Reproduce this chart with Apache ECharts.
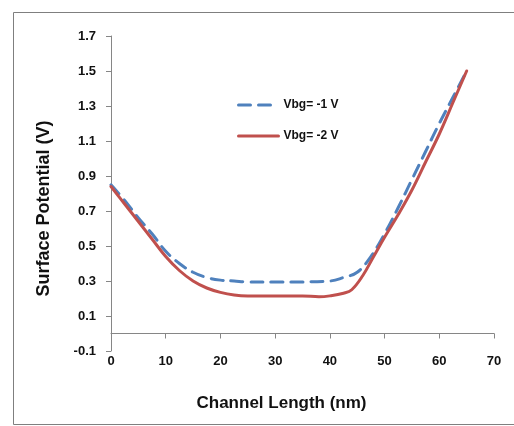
<!DOCTYPE html>
<html>
<head>
<meta charset="utf-8">
<script src="https://cdn.jsdelivr.net/npm/echarts@6/dist/echarts.min.js"></script>
<style>html,body{margin:0;padding:0;background:#fff;}#chart{width:514px;height:426px;}</style>
</head>
<body>
<div id="chart"></div>
<script>
var seriesNames = ['Vbg= -1 V', 'Vbg= -2 V'];
var xVbg1 = [0, 2.5, 5, 7.5, 10, 12.5, 15, 17.5, 20, 22.5, 25, 30, 35, 40, 42.5, 45, 47.5, 50, 52.5, 55, 57.5, 60, 62.5, 65];
var yVbg1 = [0.85, 0.76, 0.66, 0.57, 0.47, 0.40, 0.35, 0.32, 0.305, 0.30, 0.295, 0.295, 0.295, 0.30, 0.32, 0.35, 0.44, 0.57, 0.72, 0.88, 1.04, 1.20, 1.35, 1.50];
var xVbg2 = [0, 2.5, 5, 7.5, 10, 12.5, 15, 17.5, 20, 22.5, 25, 30, 35, 38, 40, 42.5, 44, 46, 48, 50, 52.5, 55, 57.5, 60, 62.5, 65];
var yVbg2 = [0.84, 0.74, 0.64, 0.54, 0.44, 0.36, 0.30, 0.26, 0.235, 0.22, 0.215, 0.215, 0.215, 0.21, 0.215, 0.23, 0.25, 0.33, 0.44, 0.55, 0.68, 0.82, 0.98, 1.14, 1.32, 1.50];
var xTitle = 'Channel Length (nm)';
var yTitle = 'Surface Potential (V)';

function pairs(xs, ys) { return xs.map(function (x, i) { return [x, ys[i]]; }); }

var chart = echarts.init(document.getElementById('chart'), null, {renderer: 'canvas'});
var fontFam = '"Liberation Sans", Arial, sans-serif';
var axisGray = '#868686';
chart.setOption({
  animation: false,
  backgroundColor: '#fff',
  graphic: [{
    type: 'rect', silent: true,
    shape: {x: 13.5, y: 12.5, width: 520, height: 412},
    style: {fill: 'none', stroke: '#7f7f7f', lineWidth: 1}
  }],
  grid: {left: 111, right: 20, top: 36, bottom: 75, containLabel: false},
  legend: {
    orient: 'vertical', left: 232, top: 94,
    itemWidth: 40, itemHeight: 14, itemGap: 19,
    itemStyle: {opacity: 0},
    lineStyle: {width: 3},
    textStyle: {fontFamily: fontFam, fontWeight: 'bold', fontSize: 12, color: '#111'},
    data: seriesNames
  },
  xAxis: [{
    type: 'value', min: 0, max: 70, interval: 10,
    position: 'bottom',
    axisLine: {onZero: true, lineStyle: {color: axisGray, width: 1}},
    axisTick: {show: true, length: 5, lineStyle: {color: axisGray}},
    axisLabel: {show: false},
    splitLine: {show: false},
    name: xTitle, nameLocation: 'middle', nameGap: 44,
    nameTextStyle: {fontFamily: fontFam, fontWeight: 'bold', fontSize: 17, color: '#111', padding: [0, 42, 0, 0]}
  }, {
    type: 'value', min: 0, max: 70, interval: 10,
    position: 'bottom',
    axisLine: {show: false, onZero: false},
    axisTick: {show: false},
    axisLabel: {show: true, margin: 4, fontFamily: fontFam, fontWeight: 'bold', fontSize: 13, color: '#111'},
    splitLine: {show: false}
  }],
  yAxis: {
    type: 'value', min: -0.1, max: 1.7, interval: 0.2,
    axisLine: {show: true, lineStyle: {color: axisGray, width: 1}},
    axisTick: {show: true, length: 5, lineStyle: {color: axisGray}},
    axisLabel: {margin: 15, fontFamily: fontFam, fontWeight: 'bold', fontSize: 13, color: '#111',
      formatter: function (v) { return (Math.round(v * 10) / 10).toFixed(1); }},
    splitLine: {show: false},
    name: yTitle, nameLocation: 'middle', nameGap: 58,
    nameTextStyle: {fontFamily: fontFam, fontWeight: 'bold', fontSize: 18, color: '#111', padding: [0, 30, 0, 0]}
  },
  series: [{
    name: seriesNames[0], type: 'line', xAxisIndex: 0,
    data: pairs(xVbg1, yVbg1), smooth: 0.4, showSymbol: false, symbol: 'none', z: 2,
    lineStyle: {color: '#4F81BD', width: 3, type: [12, 8], cap: 'round'},
    itemStyle: {color: '#4F81BD'}
  }, {
    name: seriesNames[1], type: 'line', xAxisIndex: 0,
    data: pairs(xVbg2, yVbg2), smooth: 0.4, showSymbol: false, symbol: 'none', z: 3,
    lineStyle: {color: '#C0504D', width: 3, cap: 'round'},
    itemStyle: {color: '#C0504D'}
  }]
});
</script>
</body>
</html>
